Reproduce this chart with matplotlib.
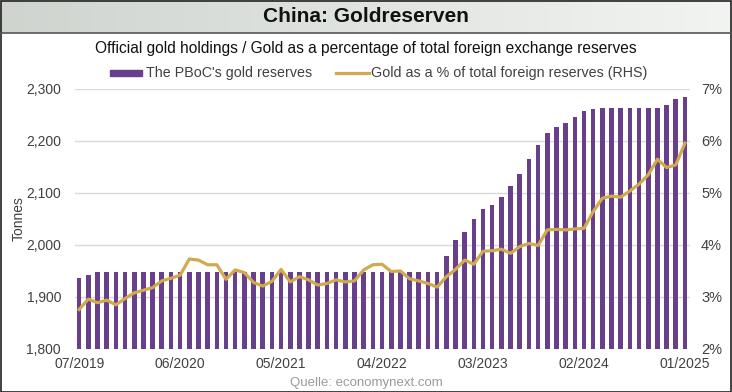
import numpy as np
import matplotlib.pyplot as plt
from matplotlib.patches import Rectangle
from matplotlib.lines import Line2D
from matplotlib.colors import LinearSegmentedColormap

# monthly data 07/2019 .. 01/2025
months = ['07/2019', '06/2020', '05/2021', '04/2022', '03/2023', '02/2024', '01/2025']
tick_pos = [0, 11, 22, 33, 44, 55, 66]

# PBoC gold reserves, tonnes
tonnes = ([1936, 1942] + [1948] * 38 +
          [1979, 2010, 2025, 2050, 2069, 2076, 2092, 2113, 2136, 2165, 2192,
           2215, 2226, 2235, 2246, 2258, 2262, 2264, 2264, 2264, 2264, 2264,
           2264, 2264, 2270, 2280, 2285])

# gold as % of total foreign reserves (RHS)
gold_pct = [2.76, 2.96, 2.89, 2.94, 2.85, 2.97, 3.08, 3.13, 3.18, 3.31,
            3.36, 3.42, 3.73, 3.71, 3.62, 3.62, 3.34, 3.52, 3.47, 3.28,
            3.21, 3.30, 3.53, 3.29, 3.39, 3.33, 3.23, 3.26, 3.33, 3.29,
            3.31, 3.52, 3.62, 3.63, 3.49, 3.50, 3.35, 3.31, 3.26, 3.19,
            3.39, 3.53, 3.71, 3.63, 3.88, 3.89, 3.92, 3.84, 3.97, 4.03,
            3.99, 4.29, 4.30, 4.29, 4.31, 4.32, 4.64, 4.90, 4.94, 4.92,
            5.04, 5.17, 5.35, 5.65, 5.49, 5.54, 5.96]

purple = '#673f8d'
gold = '#d2a94e'
txt = '#404040'
plt.rcParams['font.family'] = ['Liberation Sans', 'DejaVu Sans']

W, H = 732, 392
fig = plt.figure(figsize=(W / 100, H / 100), dpi=100)
fig.patch.set_facecolor('white')

# title band with light grey gradient
band = fig.add_axes([0, 1 - 33 / H, 1, 33 / H])
grad = np.linspace(0, 1, 256).reshape(1, -1)
band.imshow(grad, aspect='auto', extent=[0, 1, 0, 1],
            cmap=LinearSegmentedColormap.from_list('g', ['#cfd4cf', '#f2f4f2']))
band.set_xlim(0, 1)
band.set_ylim(0, 1)
band.axis('off')
fig.add_artist(Line2D([0, 1], [1 - 33 / H] * 2, color='#555555', lw=1.2))
fig.text(0.5, 1 - 17 / H, 'China: Goldreserven', ha='center', va='center',
         fontsize=15, fontweight='bold', color='#111111')

fig.text(0.5, 1 - 49 / H,
         'Official gold holdings / Gold as a percentage of total foreign exchange reserves',
         ha='center', va='center', fontsize=11.2, color='#111111')

x = np.arange(len(tonnes))
ax = fig.add_axes([75 / W, 1 - 349 / H, 615 / W, 260 / H])
ax.bar(x, tonnes, width=0.5, color=purple, zorder=2)
ax.set_ylim(1800, 2300)
ax.set_xlim(-0.45, 66.55)
ax.set_yticks(range(1800, 2301, 100))
ax.set_yticklabels([f'{v:,}' for v in range(1800, 2301, 100)])
ax.grid(axis='y', color='#d9d9d9', lw=1, zorder=0)
ax.set_xticks(tick_pos)
ax.set_xticklabels(months)
ax.tick_params(length=0, labelsize=10, colors=txt)
ax.tick_params(axis='x', pad=6)
ax.tick_params(axis='y', pad=10)
for s in ax.spines.values():
    s.set_visible(False)
ax.set_ylabel('Tonnes', fontsize=10, color=txt, labelpad=0)

ax2 = ax.twinx()
ax2.plot(x, gold_pct, color=gold, lw=2.3, zorder=3)
ax2.set_ylim(2, 7)
ax2.set_yticks(range(2, 8))
ax2.set_yticklabels([f'{v}%' for v in range(2, 8)])
ax2.tick_params(length=0, labelsize=10.5, colors=txt, pad=8)
for s in ax2.spines.values():
    s.set_visible(False)

# legend row
fig.add_artist(Rectangle((110 / W, 1 - 76 / H), 32 / W, 6 / H, color=purple,
                         transform=fig.transFigure))
fig.text(146 / W, 1 - 73 / H, "The PBoC's gold reserves", va='center',
         fontsize=10.3, color=txt)
fig.add_artist(Line2D([336 / W, 369 / W], [1 - 73 / H] * 2, color=gold, lw=2.3))
fig.text(371 / W, 1 - 73 / H, 'Gold as a % of total foreign reserves (RHS)',
         va='center', fontsize=10.3, color=txt)

fig.text(0.5, 1 - 383 / H, 'Quelle: economynext.com', ha='center', va='center',
         fontsize=9.5, color='#9a9a9a')

# outer frame
fig.add_artist(Rectangle((0.5 / W, 0.5 / H), 1 - 1.5 / W, 1 - 1.5 / H, fill=False,
                         ec='#222222', lw=1.2, transform=fig.transFigure))

fig.savefig('out.png', dpi=100)
